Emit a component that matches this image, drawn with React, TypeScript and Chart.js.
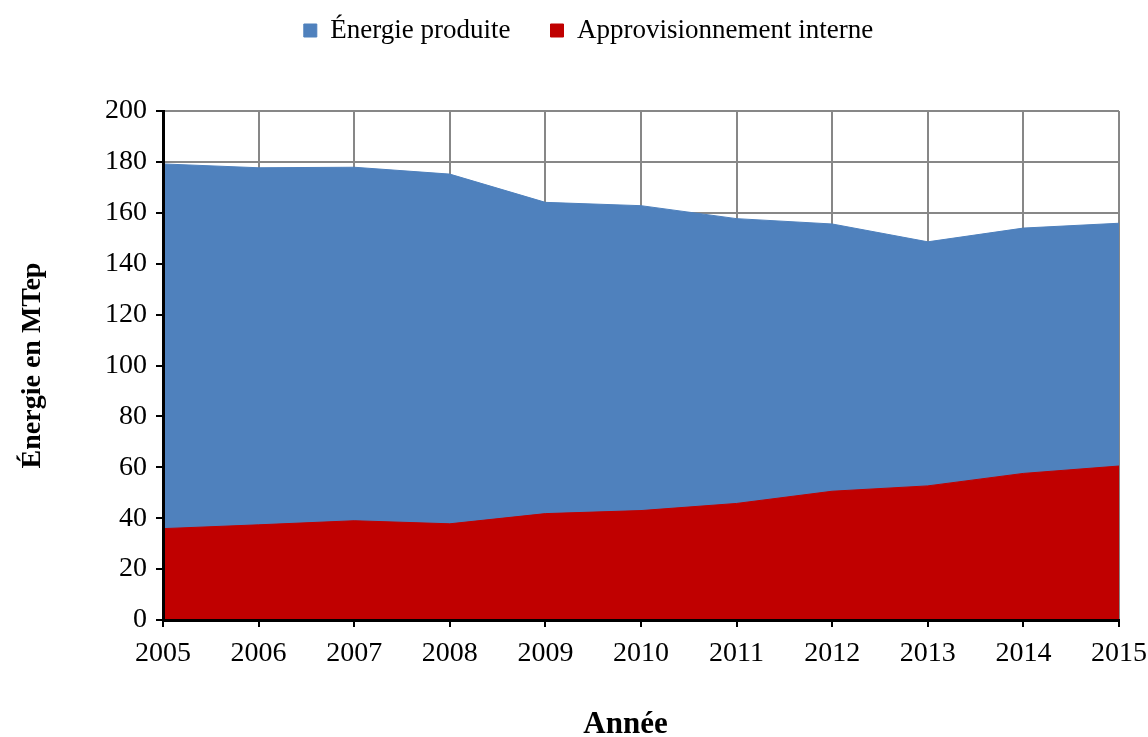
import { useEffect, useRef } from 'react';
import { Chart, registerables } from 'chart.js';

Chart.register(...registerables);

const years = ['2005', '2006', '2007', '2008', '2009', '2010', '2011', '2012', '2013', '2014', '2015'];
const energieProduite = [179.2, 177.7, 177.9, 175.2, 164.1, 162.8, 157.7, 155.6, 148.6, 154.0, 155.9];
const approvisionnementInterne = [35.9, 37.4, 39.0, 37.8, 41.8, 43.0, 45.8, 50.6, 52.7, 57.6, 60.5];

const FONT = "'Liberation Serif', 'Times New Roman', serif";

export default function App() {
  const ref = useRef<HTMLCanvasElement>(null);

  useEffect(() => {
    document.body.style.margin = '0';
    const legendLayout = {
      id: 'legendLayout',
      beforeInit(chart: any) {
        const legend = chart.legend;
        if (!legend) return;
        const origFit = legend.fit;
        legend.fit = function () {
          origFit.call(this);
          this.height = 111;
        };
      },
      afterLayout(chart: any) {
        const legend = chart.legend;
        if (!legend) return;
        legend.left = 58;
        legend.right = 1119;
        legend.top = -23;
        legend.bottom = 88;
      },
    };

    const chart = new Chart(ref.current!, {
      type: 'line',
      data: {
        labels: years,
        datasets: [
          {
            label: 'Énergie produite',
            data: energieProduite,
            backgroundColor: '#4F81BD',
            borderColor: '#4F81BD',
            borderWidth: 1,
            fill: 'origin',
            pointRadius: 0,
            order: 2,
          },
          {
            label: 'Approvisionnement interne',
            data: approvisionnementInterne,
            backgroundColor: '#C00000',
            borderColor: '#C00000',
            borderWidth: 1,
            fill: 'origin',
            pointRadius: 0,
            order: 1,
          },
        ],
      },
      options: {
        responsive: true,
        maintainAspectRatio: false,
        animation: false,
        layout: { padding: { top: 0, left: 0, right: 29, bottom: 0 } },
        elements: { line: { tension: 0 } },
        plugins: {
          legend: {
            position: 'top',
            labels: {
              font: { family: FONT, size: 27 },
              color: '#000',
              boxWidth: 13,
              boxHeight: 13,
              padding: 40,
              sort: (a: any, b: any) => a.datasetIndex - b.datasetIndex,
            },
          },
          tooltip: { enabled: false },
        },
        scales: {
          x: {
            type: 'category',
            offset: false,
            grid: { color: '#878787', lineWidth: 2, tickColor: '#000', tickLength: 7, tickWidth: 2 },
            border: { color: '#000', width: 3, z: 1 },
            ticks: {
              color: '#000',
              font: { family: FONT, size: 28, lineHeight: 1 },
              padding: 13,
              maxRotation: 0,
              autoSkip: false,
            },
            title: {
              display: true,
              text: 'Année\u00a0\u00a0\u00a0\u00a0',
              color: '#000',
              font: { family: FONT, size: 31, weight: 'bold', lineHeight: 1 },
              padding: { top: 4, bottom: -3 },
            },
            afterFit: (s: any) => {
              s.height = 117;
              s.paddingRight = 0;
              s.paddingLeft = 0;
            },
          },
          y: {
            min: 0,
            max: 200,
            grid: { color: '#878787', lineWidth: 2, tickColor: '#000', tickLength: 7, tickWidth: 2 },
            border: { color: '#000', width: 3, z: 1 },
            ticks: {
              stepSize: 20,
              color: '#000',
              font: { family: FONT, size: 28, lineHeight: 1 },
              padding: 9,
            },
            title: {
              display: true,
              text: 'Énergie en MTep',
              color: '#000',
              font: { family: FONT, size: 28, weight: 'bold', lineHeight: 1 },
              padding: { top: 19, bottom: 4 },
            },
            afterFit: (s: any) => {
              s.width = 163;
            },
          },
        },
      },
      plugins: [legendLayout],
    });
    return () => chart.destroy();
  }, []);

  return (
    <div style={{ position: 'fixed', left: 0, top: 0, width: 1148, height: 737 }}>
      <canvas ref={ref} />
    </div>
  );
}
